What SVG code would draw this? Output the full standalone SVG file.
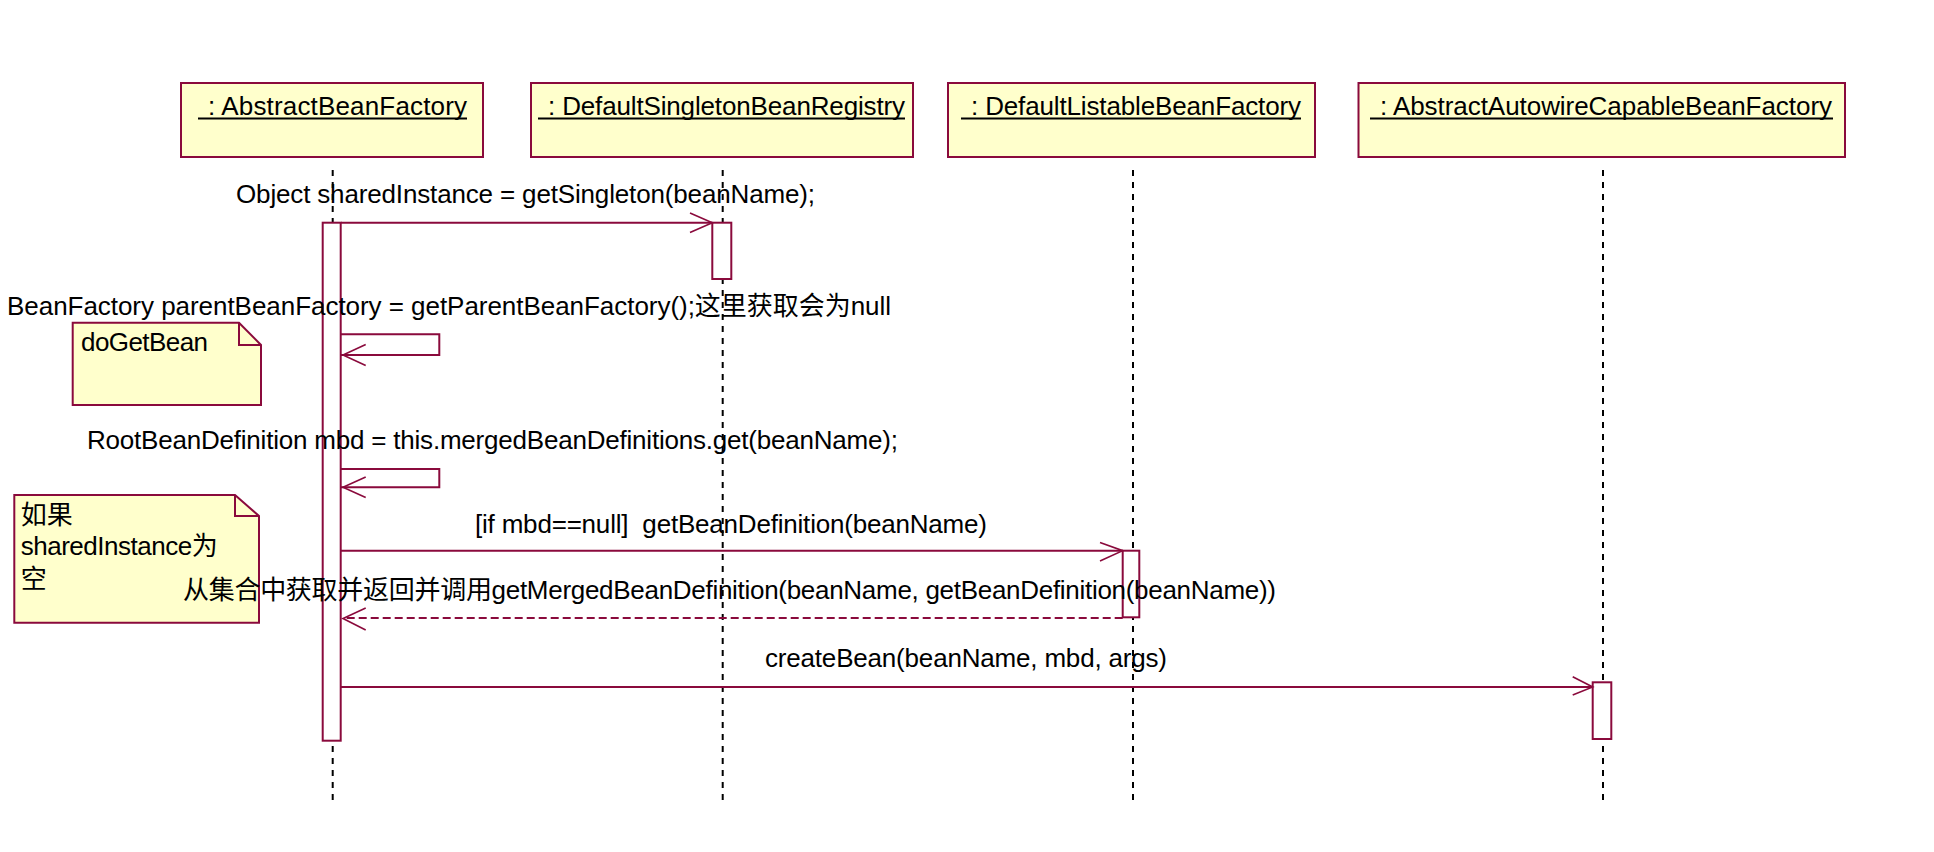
<svg xmlns="http://www.w3.org/2000/svg" width="1934" height="852" viewBox="0 0 1934 852">
<style>
.obj{fill:#ffffcc;stroke:#8a0a3c;stroke-width:2}
.note{fill:#ffffcc;stroke:#8a0a3c;stroke-width:2}
.fold{fill:none;stroke:#8a0a3c;stroke-width:2}
.life{stroke:#000;stroke-width:2;stroke-dasharray:6 6;fill:none}
.bar{fill:#fff;stroke:#8a0a3c;stroke-width:2}
.msg{fill:none;stroke:#8a0a3c;stroke-width:2}
.ret{fill:none;stroke:#8a0a3c;stroke-width:2;stroke-dasharray:8 4}
.head{fill:none;stroke:#8a0a3c;stroke-width:1.6}
.ul{stroke:#000;stroke-width:2}
text{font-family:"Liberation Sans","Noto Sans CJK SC",sans-serif;font-size:26px;fill:#000}
</style>
<rect x="0" y="0" width="1934" height="852" fill="#fff"/>

<g id="lifelines">
<line class="life" x1="332.7" y1="170" x2="332.7" y2="800"/>
<line class="life" x1="722.7" y1="170" x2="722.7" y2="800"/>
<line class="life" x1="1133" y1="170" x2="1133" y2="800"/>
<line class="life" x1="1603" y1="170" x2="1603" y2="800"/>
</g>

<g id="obj-AbstractBeanFactory">
<rect class="obj" x="181" y="83" width="302" height="74"/>
<text x="208" y="115" textLength="259">: AbstractBeanFactory</text>
<line class="ul" x1="198" y1="118.5" x2="467" y2="118.5"/>
</g>
<g id="obj-DefaultSingletonBeanRegistry">
<rect class="obj" x="531" y="83" width="382" height="74"/>
<text x="548" y="115" textLength="357">: DefaultSingletonBeanRegistry</text>
<line class="ul" x1="538" y1="118.5" x2="905" y2="118.5"/>
</g>
<g id="obj-DefaultListableBeanFactory">
<rect class="obj" x="948" y="83" width="367" height="74"/>
<text x="971" y="115" textLength="330">: DefaultListableBeanFactory</text>
<line class="ul" x1="961" y1="118.5" x2="1301" y2="118.5"/>
</g>
<g id="obj-AbstractAutowireCapableBeanFactory">
<rect class="obj" x="1358.5" y="83" width="486.5" height="74"/>
<text x="1380" y="115" textLength="452">: AbstractAutowireCapableBeanFactory</text>
<line class="ul" x1="1370" y1="118.5" x2="1833" y2="118.5"/>
</g>

<g id="activations">
<rect class="bar" x="322.7" y="222.7" width="18" height="518"/>
<rect class="bar" x="712.3" y="222.7" width="19" height="56.3"/>
<rect class="bar" x="1122.7" y="550.7" width="16.6" height="66.6"/>
<rect class="bar" x="1592.7" y="682.3" width="18.6" height="56.7"/>
</g>

<g id="note-doGetBean">
<path class="note" d="M72.7,322.7 H239 L261,345 V405 H72.7 Z"/>
<path class="fold" d="M239,322.7 V345 H261"/>
<text x="81" y="351" textLength="127">doGetBean</text>
</g>

<g id="note-sharedInstance">
<path class="note" d="M14.3,495 H235 L259,516 V622.7 H14.3 Z"/>
<path class="fold" d="M235,495 V516 H259"/>
<text x="20.7" y="524">如果</text>
<text x="20.7" y="555" textLength="197">sharedInstance为</text>
<text x="20.7" y="588">空</text>
</g>

<g id="connectors">
<line class="msg" x1="341" y1="222.7" x2="712.3" y2="222.7"/>
<path class="head" d="M690,213 L712.3,222.7 L690,232.5"/>

<path class="msg" d="M341,334.3 H439.3 V355 H341"/>
<path class="head" d="M365.7,344.5 L343,355 L365.7,365.5"/>

<path class="msg" d="M341,469 H439.3 V487.3 H341"/>
<path class="head" d="M365.7,477 L343,487.3 L365.7,497.5"/>

<line class="msg" x1="341" y1="550.7" x2="1122.7" y2="550.7"/>
<path class="head" d="M1100,542.5 L1122.7,550.7 L1100,561"/>

<line class="ret" x1="1122.7" y1="618" x2="343" y2="618"/>
<path class="head" d="M365.7,608 L343,618.5 L365.7,630"/>

<line class="msg" x1="341" y1="687" x2="1592.7" y2="687"/>
<path class="head" d="M1572.7,676.7 L1592.7,687 L1572.7,695"/>
</g>

<g id="labels">
<text x="236" y="203" textLength="579">Object sharedInstance = getSingleton(beanName);</text>
<text x="7" y="315" textLength="884">BeanFactory parentBeanFactory = getParentBeanFactory();这里获取会为null</text>
<text x="87" y="449" textLength="811">RootBeanDefinition mbd = this.mergedBeanDefinitions.get(beanName);</text>
<text x="475" y="533" textLength="512" xml:space="preserve">[if mbd==null]  getBeanDefinition(beanName)</text>
<text x="183" y="599" textLength="1093">从集合中获取并返回并调用getMergedBeanDefinition(beanName, getBeanDefinition(beanName))</text>
<text x="765" y="667" textLength="402">createBean(beanName, mbd, args)</text>
</g>
</svg>
